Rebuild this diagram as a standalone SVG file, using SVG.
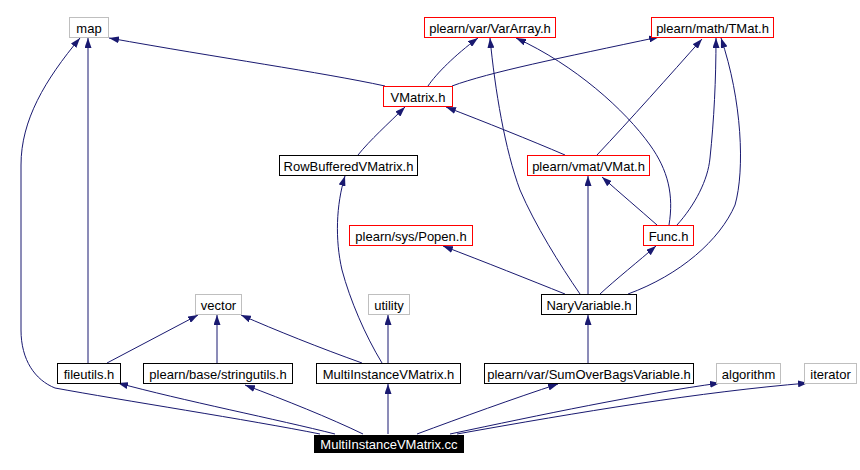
<svg xmlns="http://www.w3.org/2000/svg" width="860" height="470" viewBox="0 0 860 470">
<defs>
<marker id="ah" viewBox="0 0 10 7" refX="10" refY="3.5" markerWidth="10" markerHeight="7" markerUnits="userSpaceOnUse" orient="auto">
<path d="M0,0 L10,3.5 L0,7 z" fill="#191970"/>
</marker>
<style>
.n rect{fill:#fff;stroke-width:1;shape-rendering:crispEdges}
.g rect{stroke:#bfbfbf}
.r rect{stroke:#ff0000}
.b rect{stroke:#000}
.n text{font-family:"Liberation Sans",Arial,sans-serif;font-size:13px;fill:#000;text-anchor:middle}
#edges path{fill:none;stroke:#191970;stroke-width:1;marker-end:url(#ah)}
</style>
</defs>
<rect width="860" height="470" fill="#fff"/>
<g id="edges">
<path d="M385,86 C320,72 220,58 109,38"/>
<path d="M428,86 C436,74 455,55 478,38"/>
<path d="M452,86 C490,72 560,58 659,37"/>
<path d="M358,155 C370,140 388,124 405,107"/>
<path d="M565,155 C530,140 485,122 446,107"/>
<path d="M597,155 C630,120 670,75 702,39"/>
<path d="M669,225 C674,195 668,170 650,145 C625,110 575,65 516,38"/>
<path d="M677,225 C695,205 708,180 710,158 C714,120 716,80 716,38"/>
<path d="M657,225 C640,210 620,193 602,177"/>
<path d="M580,294 C560,265 535,225 520,190 C505,150 495,90 490,38"/>
<path d="M628,294 C680,275 720,240 735,205 C745,170 742,100 721,38"/>
<path d="M588,294 L588,176"/>
<path d="M600,294 C615,280 640,260 656,246"/>
<path d="M565,294 C530,280 485,262 443,246"/>
<path d="M588,363 L588,315"/>
<path d="M88,363 L88,38"/>
<path d="M107,363 L198,315"/>
<path d="M217,363 L217,315"/>
<path d="M362,363 C320,348 275,330 241,315"/>
<path d="M388,363 L388,315"/>
<path d="M382,363 C365,335 350,300 342,270 C335,240 336,205 345,176"/>
<path d="M320,434 C250,420 120,400 55,388 C35,380 21,360 21,330 L21,165 C21,120 45,80 80,38"/>
<path d="M335,434 C280,420 180,400 118,383"/>
<path d="M363,434 C330,418 285,400 245,385"/>
<path d="M388,434 L388,384"/>
<path d="M417,434 C460,418 515,398 558,384"/>
<path d="M450,434 C540,415 640,394 720,383"/>
<path d="M457,434 C580,412 700,392 808,383"/>
</g>
<g id="map" class="n g"><rect x="69.5" y="17.5" width="39" height="20"/><text x="89" y="32.5">map</text></g>
<g id="VarArray" class="n r"><rect x="424.5" y="17.5" width="131" height="20"/><text x="490" y="32.5">plearn/var/VarArray.h</text></g>
<g id="TMat" class="n r"><rect x="651.5" y="17.5" width="122" height="20"/><text x="712.5" y="32.5">plearn/math/TMat.h</text></g>
<g id="VMatrix" class="n r"><rect x="383.5" y="86.5" width="69" height="20"/><text x="418" y="101.5">VMatrix.h</text></g>
<g id="RowBufferedVMatrix" class="n b"><rect x="279.5" y="155.5" width="138" height="20"/><text x="348.5" y="170.5">RowBufferedVMatrix.h</text></g>
<g id="VMat" class="n r"><rect x="527.5" y="155.5" width="122" height="20"/><text x="588.5" y="170.5">plearn/vmat/VMat.h</text></g>
<g id="Popen" class="n r"><rect x="349.5" y="225.5" width="123" height="20"/><text x="411" y="240.5">plearn/sys/Popen.h</text></g>
<g id="Func" class="n r"><rect x="643.5" y="225.5" width="50" height="20"/><text x="668.5" y="240.5">Func.h</text></g>
<g id="NaryVariable" class="n b"><rect x="541.5" y="294.5" width="95" height="20"/><text x="589" y="309.5">NaryVariable.h</text></g>
<g id="vector" class="n g"><rect x="195.5" y="294.5" width="46" height="20"/><text x="218.5" y="309.5">vector</text></g>
<g id="utility" class="n g"><rect x="368.5" y="294.5" width="41" height="20"/><text x="389" y="309.5">utility</text></g>
<g id="fileutils" class="n b"><rect x="57.5" y="363.5" width="63" height="20"/><text x="89" y="378.5">fileutils.h</text></g>
<g id="stringutils" class="n b"><rect x="143.5" y="363.5" width="149" height="20"/><text x="218" y="378.5">plearn/base/stringutils.h</text></g>
<g id="MultiInstanceVMatrixH" class="n b"><rect x="316.5" y="363.5" width="144" height="20"/><text x="388.5" y="378.5">MultiInstanceVMatrix.h</text></g>
<g id="SumOverBags" class="n b"><rect x="484.5" y="363.5" width="209" height="20"/><text x="589" y="378.5">plearn/var/SumOverBagsVariable.h</text></g>
<g id="algorithm" class="n g"><rect x="716.5" y="363.5" width="64" height="20"/><text x="748.5" y="378.5">algorithm</text></g>
<g id="iterator" class="n g"><rect x="804.5" y="363.5" width="52" height="20"/><text x="830.5" y="378.5">iterator</text></g>
<g id="MultiInstanceVMatrixCC"><rect x="314" y="435" width="150" height="18" fill="#000"/><text x="389" y="449" style="font-family:'Liberation Sans',Arial,sans-serif;font-size:13px;fill:#fff;text-anchor:middle">MultiInstanceVMatrix.cc</text></g>
</svg>
